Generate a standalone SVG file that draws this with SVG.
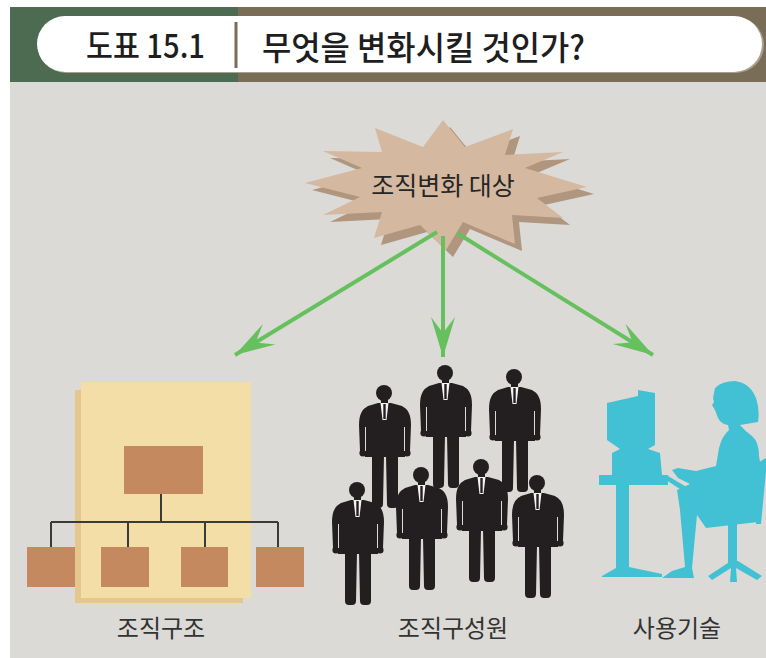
<svg xmlns="http://www.w3.org/2000/svg" xmlns:xlink="http://www.w3.org/1999/xlink" width="766" height="658" viewBox="0 0 766 658">
  <style>
    .ko { font-family: "Noto Sans CJK KR", "Noto Sans", sans-serif; }
    .title { font-size: 33px; font-weight: 500; fill: #1e1e1e; }
    .label { font-size: 24px; fill: #333333; }
    .arrow { stroke: #66c05e; stroke-width: 4; fill: none; }
    .box { fill: #c4895e; }
    .tree { stroke: #3a3a3a; stroke-width: 2; fill: none; }
    .suit { fill: #231f20; }
    .cyan { fill: #43c1d4; }
  </style>
  <defs>
    <marker id="head" viewBox="-42 -14 44 28" refX="0" refY="0" markerWidth="44" markerHeight="28" markerUnits="userSpaceOnUse" orient="auto">
      <path d="M0 0 L-40 -12 Q-28 -3 -24 0 Q-28 3 -40 12 Z" fill="#66c05e"/>
    </marker>
    <!-- standing man in a suit, origin at head centre -->
    <g id="man">
      <circle class="suit" cx="-1" cy="0" r="8"/>
      <rect class="suit" x="-4" y="5" width="7" height="7"/>
      <path class="suit" d="M-7 10 L6 10 L17 13 Q21 16 21 26 L20 64 L-20 64 L-21 26 Q-21 16 -17 13 Z"/>
      <path class="suit" d="M-16 13 Q-26 16 -26 32 L-25 58 L-19 58 L-19 30 Z"/>
      <path class="suit" d="M16 13 Q26 16 26 32 L25 58 L19 58 L19 30 Z"/>
      <circle class="suit" cx="-22" cy="60" r="3.6"/>
      <circle class="suit" cx="22" cy="60" r="3.6"/>
      <path d="M-19.5 34 L-19.5 58 M19.5 34 L19.5 58" stroke="#dbdad6" stroke-width="1"/>
      <path class="suit" d="M-13 62 L-1 62 L-2 111 Q-2 115 -6 115 L-9 115 Q-13 115 -13 111 Z"/>
      <path class="suit" d="M1 62 L13 62 L13 111 Q13 115 9 115 L6 115 Q2 115 2 111 Z"/>
      <path d="M-4.5 10 L3.5 10 L1.5 27 L-2.5 27 Z" fill="#f4f4f4"/>
      <path d="M-0.5 11 L-0.5 26" stroke="#231f20" stroke-width="2.4"/>
    </g>
  </defs>

  <!-- page background -->
  <rect width="766" height="658" fill="#ffffff"/>
  <rect x="10" y="82" width="756" height="576" fill="#dbdad6"/>

  <!-- title bar -->
  <g id="title">
    <rect x="10" y="7" width="228" height="75" fill="#4d6b51"/>
    <rect x="238" y="7" width="528" height="75" fill="#7a6d58"/>
    <rect x="38" y="17" width="726" height="56" rx="28" fill="#a8a090"/>
    <rect x="37" y="16" width="725" height="56" rx="28" fill="#ffffff"/>
    <line x1="236" y1="22" x2="236" y2="68" stroke="#7a6d58" stroke-width="3"/>
    <text class="ko title" x="86" y="58" textLength="119" lengthAdjust="spacingAndGlyphs">도표 15.1</text>
    <text class="ko title" x="262" y="60" textLength="323" lengthAdjust="spacingAndGlyphs">무엇을 변화시킬 것인가?</text>
  </g>

  <!-- burst: target of change -->
  <g id="burst">
    <polygon transform="translate(7,7)" fill="#b0957f" points="443,120 465,147 513,129 505,155 563,152 525,168 587,187 537,198 563,218 512,215 515,244 463,222 446,250 420,225 374,238 382,212 323,215 360,197 305,183 362,168 323,151 382,152 375,128 423,147"/>
    <polygon fill="#d4b9a0" points="443,120 465,147 513,129 505,155 563,152 525,168 587,187 537,198 563,218 512,215 515,244 463,222 446,250 420,225 374,238 382,212 323,215 360,197 305,183 362,168 323,151 382,152 375,128 423,147"/>
    <text class="ko" x="443" y="195" font-size="25" fill="#262626" text-anchor="middle">조직변화 대상</text>
  </g>

  <!-- arrows -->
  <g id="connectors">
    <line class="arrow" x1="437" y1="232" x2="235" y2="355" marker-end="url(#head)"/>
    <line class="arrow" x1="443" y1="236" x2="443" y2="357" marker-end="url(#head)"/>
    <line class="arrow" x1="457" y1="233" x2="653" y2="355" marker-end="url(#head)"/>
  </g>

  <!-- organisation structure -->
  <g id="structure">
    <rect x="75" y="390" width="168" height="213" fill="#e6c68c"/>
    <rect x="81" y="382" width="170" height="216" fill="#f2dea6"/>
    <rect class="box" x="124" y="446" width="79" height="48"/>
    <path class="tree" d="M161 494 V522 M51 522 H278 M51 522 V547 M128 522 V547 M205 522 V547 M278 522 V547"/>
    <rect class="box" x="27" y="547" width="48" height="40"/>
    <rect class="box" x="101" y="547" width="48" height="40"/>
    <rect class="box" x="181" y="547" width="47" height="40"/>
    <rect class="box" x="256" y="547" width="48" height="40"/>
    <text class="ko label" x="161" y="637" text-anchor="middle">조직구조</text>
  </g>

  <!-- members -->
  <g id="members">
    <use xlink:href="#man" x="385" y="393"/>
    <use xlink:href="#man" x="446" y="373"/>
    <use xlink:href="#man" x="515" y="377"/>
    <use xlink:href="#man" x="358" y="490"/>
    <use xlink:href="#man" x="422" y="475"/>
    <use xlink:href="#man" x="482" y="467"/>
    <use xlink:href="#man" x="538" y="483"/>
    <text class="ko label" x="453" y="637" text-anchor="middle">조직구성원</text>
  </g>

  <!-- technology: computer user -->
  <g id="technology">
    <path class="cyan" d="M607 403 L638 396 L638 390 L655 393 L655 445 L648 449 L660 453 L662 475 L612 475 L612 453 L620 449 L607 440 Z"/>
    <rect class="cyan" x="599" y="475" width="69" height="10"/>
    <path class="cyan" d="M660 476 L668 476 L690 489 L686 493 Z"/>
    <rect class="cyan" x="616" y="484" width="13" height="86"/>
    <path class="cyan" d="M602 576 L616 568 L629 567 L662 574 L662 577 L602 577 Z"/>
    <path class="cyan" d="M713 398 L715 388 Q722 381 735 381 Q750 383 756 398 Q760 410 758 422 L740 425 Q745 431 752 436 Q759 442 759 456 L760 462 L758 522 L706 528 L697 515 L692 568 L694 578 L662 578 L672 571 L685 567 L680 510 L677 490 L690 484 L678 478 L672 470 L678 468 L696 471 L716 466 L719 448 Q722 436 729 430 L728 425 Q721 424 718 418 L715 410 L712 405 L714 402 Z"/>
    <path class="cyan" d="M759 462 L766 458 L766 472 L761 524 L756 524 Z"/>
    <rect class="cyan" x="728" y="522" width="9" height="46"/>
    <path class="cyan" d="M731 561 L708 576 L712 580 L731 568 L730 582 L737 582 L736 568 L757 580 L762 576 L738 561 Z"/>
    <text class="ko label" x="677" y="637" text-anchor="middle">사용기술</text>
  </g>
</svg>
